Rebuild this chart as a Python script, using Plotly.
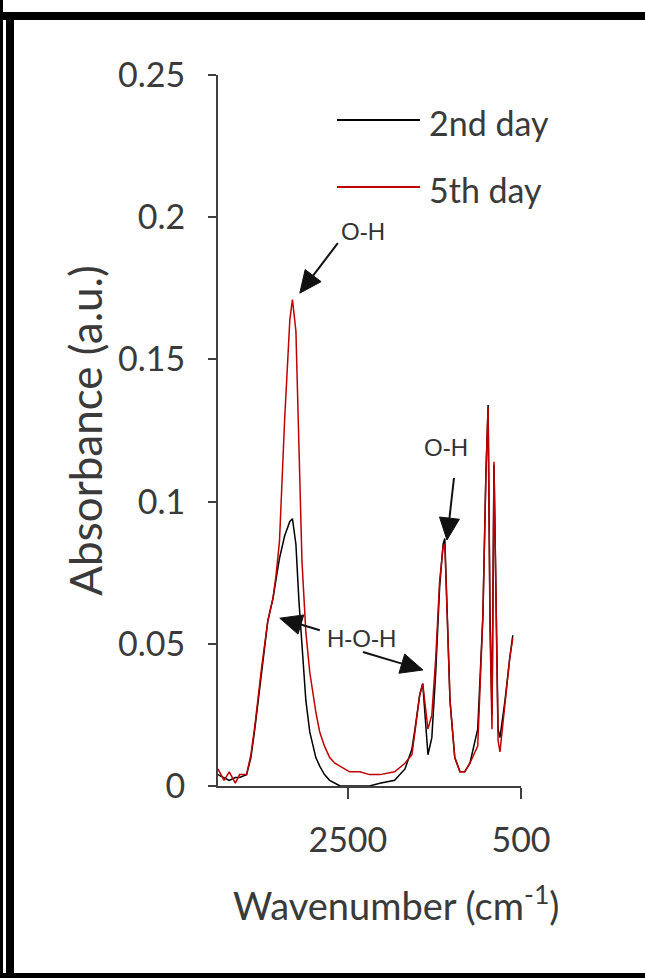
import math
import plotly.graph_objects as go

# ---------------- data ----------------
wavenumber = [4000, 3930, 3870, 3800, 3750, 3670, 3620, 3575, 3495, 3425,
              3365, 3330, 3290, 3230, 3170, 3140, 3100, 3065, 3030, 2985,
              2940, 2870, 2825, 2770, 2710, 2650, 2590, 2530, 2480, 2360,
              2250, 2130, 1960, 1840, 1790, 1760, 1725, 1670, 1635, 1600,
              1575, 1530, 1485, 1440, 1400, 1380, 1355, 1320, 1265, 1205,
              1150, 1090, 1000, 940, 905, 880, 858, 835, 812, 790,
              765, 743, 685, 630, 595]

day2 = [0.004, 0.003, 0.002, 0.003, 0.003, 0.004, 0.010, 0.020, 0.041, 0.058,
        0.066, 0.072, 0.080, 0.088, 0.093, 0.094, 0.085, 0.065, 0.048, 0.030,
        0.019, 0.010, 0.007, 0.004, 0.002, 0.001, 0.000, 0.000, 0.000, 0.000,
        0.000, 0.001, 0.002, 0.006, 0.010, 0.013, 0.020, 0.032, 0.036, 0.022,
        0.011, 0.017, 0.040, 0.070, 0.085, 0.087, 0.060, 0.030, 0.010, 0.005,
        0.005, 0.008, 0.020, 0.060, 0.110, 0.134, 0.060, 0.025, 0.113, 0.060,
        0.020, 0.017, 0.030, 0.045, 0.053]

day5 = [0.006, 0.002, 0.005, 0.001, 0.004, 0.004, 0.011, 0.021, 0.042, 0.058,
        0.066, 0.074, 0.086, 0.129, 0.164, 0.171, 0.160, 0.122, 0.079, 0.054,
        0.040, 0.026, 0.019, 0.014, 0.010, 0.008, 0.007, 0.006, 0.005, 0.005,
        0.004, 0.004, 0.005, 0.008, 0.010, 0.011, 0.019, 0.032, 0.036, 0.026,
        0.020, 0.025, 0.045, 0.072, 0.084, 0.085, 0.060, 0.030, 0.010, 0.005,
        0.005, 0.008, 0.014, 0.060, 0.110, 0.133, 0.055, 0.020, 0.114, 0.060,
        0.016, 0.012, 0.028, 0.045, 0.052]

series_names = ["2nd day", "5th day"]
series_colors = ["#000000", "#C00000"]

x_ticks = [2500, 500]
x_ticklabels = ["2500", "500"]
y_ticks = [0, 0.05, 0.1, 0.15, 0.2, 0.25]
y_ticklabels = ["0", "0.05", "0.1", "0.15", "0.2", "0.25"]

x_title = "Wavenumber (cm<sup>-1</sup>)"
y_title = "Absorbance (a.u.)"

# band labels: (text, wavenumber, absorbance)
band_labels = [("O-H", 2327, 0.1951), ("O-H", 1370, 0.119), ("H-O-H", 2340, 0.052)]
# arrows: tip (wavenumber, absorbance) and tail offset in screen px (dx, dy down)
band_arrows = [(3055, 0.1733, 38, -50), (1355, 0.0865, 7, -62),
               (3286, 0.059, 40, 12), (1633, 0.0408, -60, -18)]

# ---------------- figure ----------------
W, H = 645, 978
ML, MR, MT, MB = 218, 124, 75, 192
PW, PH = W - ML - MR, H - MT - MB


def px(xp):
    return (xp - ML) / PW


def py(yp):
    return (H - MB - yp) / PH


fig = go.Figure()
for vals, name, col in zip([day2, day5], series_names, series_colors):
    fig.add_trace(go.Scatter(x=wavenumber, y=vals, mode="lines", name=name,
                             line=dict(color=col, width=1.5), showlegend=False))

txt_col = "#3a3a3a"
tick_font = dict(family="Lato", size=34, color=txt_col)
axis_col = "#404040"

fig.update_layout(
    width=W, height=H,
    margin=dict(l=ML, r=MR, t=MT, b=MB),
    paper_bgcolor="white", plot_bgcolor="white",
    xaxis=dict(range=[4000, 500], tickvals=x_ticks, ticktext=x_ticklabels,
               showline=True, linecolor=axis_col, linewidth=2,
               ticks="outside", ticklen=11, tickwidth=2, tickcolor=axis_col,
               showgrid=False, zeroline=False, tickfont=tick_font,
               ticklabelstandoff=12),
    yaxis=dict(range=[0, 0.25], tickvals=y_ticks, ticktext=y_ticklabels,
               showline=True, linecolor=axis_col, linewidth=2,
               ticks="outside", ticklen=8, tickwidth=2, tickcolor=axis_col,
               showgrid=False, zeroline=False, tickfont=tick_font,
               ticklabelstandoff=16,
               title=dict(text=y_title,
                          font=dict(family="Lato", size=44, color=txt_col),
                          standoff=2)),
)

shapes = []
# manual legend lines
for i, (name, col) in enumerate(zip(series_names, series_colors)):
    yl = 120 + i * 67
    shapes.append(dict(type="line", xref="paper", yref="paper",
                       x0=px(337), x1=px(420), y0=py(yl), y1=py(yl),
                       line=dict(color=col, width=2)))
# picture frame
frame = [(0, 0, 3, 978), (6, 12, 14, 978), (0, 12, 645, 20), (0, 973, 645, 978)]
for (a, b, c, d) in frame:
    shapes.append(dict(type="rect", xref="paper", yref="paper",
                       x0=px(a), x1=px(c), y0=py(d), y1=py(b),
                       fillcolor="black", line=dict(width=0), layer="above"))
# arrows drawn as pixel-sized shapes anchored at their tips
HL, HW = 22, 10
for (xa, ya, dx, dy) in band_arrows:
    sx, sy = dx, -dy
    n = math.hypot(sx, sy)
    ux, uy = sx / n, sy / n
    bx, by = HL * ux, HL * uy
    pxv, pyv = -uy, ux
    tri = (f"M 0,0 L {bx + HW * pxv:.2f},{by + HW * pyv:.2f} "
           f"L {bx - HW * pxv:.2f},{by - HW * pyv:.2f} Z")
    common = dict(type="path", xref="x", yref="y", xsizemode="pixel",
                  ysizemode="pixel", xanchor=xa, yanchor=ya, layer="above")
    shapes.append(dict(path=tri, fillcolor="#111111",
                       line=dict(color="#111111", width=1), **common))
    shapes.append(dict(path=f"M {bx:.2f},{by:.2f} L {sx:.2f},{sy:.2f}",
                       line=dict(color="#111111", width=2), **common))
fig.update_layout(shapes=shapes)

ann_font = dict(family="Liberation Sans", size=24, color="#333333")
anns = []
for i, name in enumerate(series_names):
    anns.append(dict(xref="paper", yref="paper", x=px(427), y=py(122 + i * 67),
                     text=name, showarrow=False, xanchor="left", yanchor="middle",
                     font=dict(family="Lato", size=34, color=txt_col)))
for (t, xa, ya) in band_labels:
    anns.append(dict(x=xa, y=ya, xref="x", yref="y", text=t, showarrow=False,
                     font=ann_font, xanchor="center", yanchor="middle"))
# x-axis title (placed like the reference, slightly right of plot centre)
anns.append(dict(xref="paper", yref="paper", x=px(396), y=py(903), text=x_title,
                 showarrow=False, xanchor="center", yanchor="middle",
                 font=dict(family="Lato", size=38, color=txt_col)))
fig.update_layout(annotations=anns)

fig.write_html("out.html")
